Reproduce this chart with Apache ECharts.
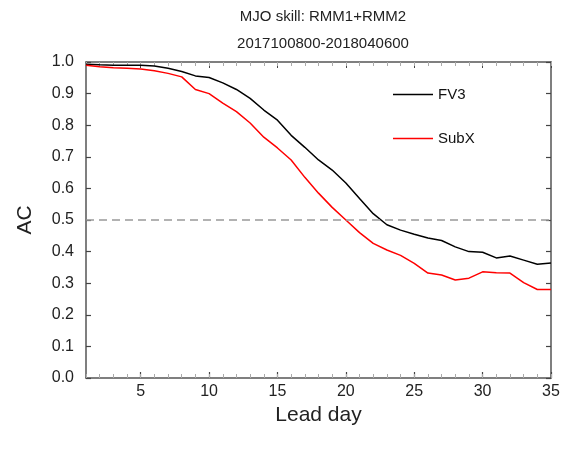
<!DOCTYPE html>
<html>
<head>
<meta charset="utf-8">
<script src="https://cdn.jsdelivr.net/npm/echarts@6/dist/echarts.min.js"></script>
<style>
  html, body { margin: 0; padding: 0; background: #fff; }
  #chart { width: 574px; height: 449px; }
</style>
</head>
<body>
<div id="chart"></div>
<script>
// lead days 1..35
const leadDays = [1, 2, 3, 4, 5, 6, 7, 8, 9, 10, 11, 12, 13, 14, 15, 16, 17, 18,
                  19, 20, 21, 22, 23, 24, 25, 26, 27, 28, 29, 30, 31, 32, 33, 34, 35];
const fv3AC = [0.993, 0.991, 0.99, 0.99, 0.99, 0.987, 0.98, 0.97, 0.956, 0.951,
               0.934, 0.913, 0.885, 0.848, 0.816, 0.768, 0.73, 0.69, 0.658, 0.617,
               0.568, 0.52, 0.485, 0.468, 0.455, 0.443, 0.435, 0.415, 0.4, 0.398,
               0.38, 0.386, 0.373, 0.36, 0.364];
const subxAC = [0.99, 0.985, 0.982, 0.98, 0.978, 0.972, 0.964, 0.953, 0.913, 0.9,
                0.87, 0.843, 0.807, 0.762, 0.728, 0.69, 0.635, 0.585, 0.54, 0.5,
                0.46, 0.426, 0.405, 0.388, 0.363, 0.332, 0.326, 0.31, 0.316, 0.336,
                0.333, 0.332, 0.302, 0.28, 0.28];
const majorTicks = [5, 10, 15, 20, 25, 30, 35];
const refLevel = 0.5;

const chart = echarts.init(document.getElementById('chart'));

const font = 'Liberation Sans';
const frame = '#555';

function pairs(vals) {
    return leadDays.map((d, i) => [d, vals[i]]);
}

// extra label-less axes: top frame line and the minor ticks
function plainX(pos, ticks, len, showLine, tickColor) {
    return {
        type: 'value', position: pos, min: 1, max: 35,
        axisLine: { show: showLine, onZero: false, lineStyle: { color: frame, width: 1.5 } },
        axisTick: { show: true, inside: true, length: len, customValues: ticks, lineStyle: { color: tickColor, width: 1 } },
        axisLabel: { show: false },
        splitLine: { show: false }
    };
}

const option = {
    backgroundColor: '#fff',
    animation: false,
    title: {
        text: 'MJO skill: RMM1+RMM2\n2017100800-2018040600',
        left: 318,
        top: -2,
        textAlign: 'center',
        textStyle: { fontFamily: font, fontSize: 15, fontWeight: 'normal', color: '#222', lineHeight: 27 }
    },
    legend: {
        orient: 'vertical',
        left: 388,
        top: 82,
        itemGap: 29,
        itemWidth: 40,
        itemHeight: 1.6,
        icon: 'rect',
        textStyle: { fontFamily: font, fontSize: 15, color: '#111' },
        data: ['FV3', 'SubX']
    },
    grid: { left: 86, right: 23, top: 62, bottom: 71 },
    xAxis: [
        {
            type: 'value', position: 'bottom', min: 1, max: 35,
            name: 'Lead day', nameLocation: 'middle', nameGap: 20,
            nameTextStyle: { fontFamily: font, fontSize: 21, color: '#222' },
            axisLine: { onZero: false, lineStyle: { color: frame, width: 1.5 } },
            axisTick: { show: true, inside: true, length: 6, customValues: majorTicks, lineStyle: { color: '#444', width: 1.2 } },
            axisLabel: { customValues: majorTicks, margin: 6, fontFamily: font, fontSize: 16, color: '#222' },
            splitLine: { show: false }
        },
        plainX('top', majorTicks, 6, true, '#444'),
        plainX('bottom', leadDays, 4, false, '#aaa'),
        plainX('top', leadDays, 4, false, '#aaa')
    ],
    yAxis: [
        {
            type: 'value', position: 'left', min: 0, max: 1, interval: 0.1,
            name: 'AC', nameLocation: 'middle', nameGap: 50, nameRotate: 90,
            nameTextStyle: { fontFamily: font, fontSize: 21, color: '#222' },
            axisLine: { show: true, lineStyle: { color: frame, width: 1.5 } },
            axisTick: { show: true, inside: true, length: 5, lineStyle: { color: '#444', width: 1.2 } },
            axisLabel: {
                margin: 12, fontFamily: font, fontSize: 16, color: '#222',
                formatter: v => v.toFixed(1)
            },
            splitLine: { show: false }
        },
        {
            type: 'value', position: 'right', min: 0, max: 1, interval: 0.1,
            axisLine: { show: true, lineStyle: { color: frame, width: 1.5 } },
            axisTick: { show: true, inside: true, length: 5, lineStyle: { color: '#444', width: 1.2 } },
            axisLabel: { show: false },
            splitLine: { show: false }
        }
    ],
    series: [
        {
            name: 'FV3', type: 'line', data: pairs(fv3AC),
            showSymbol: false, symbol: 'none',
            lineStyle: { color: '#000', width: 1.5 }, itemStyle: { color: '#000' },
            markLine: {
                silent: true, symbol: 'none', label: { show: false },
                lineStyle: { color: '#999', type: [8, 5], width: 1.6 },
                data: [{ yAxis: refLevel }]
            }
        },
        {
            name: 'SubX', type: 'line', data: pairs(subxAC),
            showSymbol: false, symbol: 'none',
            lineStyle: { color: '#ff0000', width: 1.5 }, itemStyle: { color: '#ff0000' }
        }
    ]
};

chart.setOption(option);
</script>
</body>
</html>
